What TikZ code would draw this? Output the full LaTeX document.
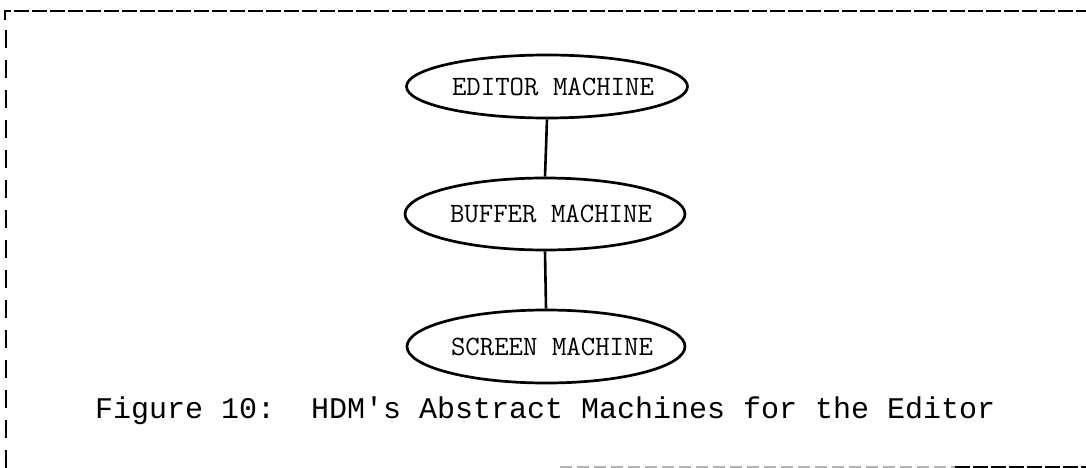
\documentclass[tikz,border=0pt]{standalone}
\usepackage{fontspec}
\usetikzlibrary{shapes.geometric}
\newfontfamily\captionfont{Liberation Mono}
\tikzset{
  % negative horizontal padding keeps the outline at its minimum size
  machine/.style={ellipse, draw=black, line width=2.7pt,
    inner xsep=-40pt, inner ysep=0pt,
    font=\ttfamily\fontsize{28}{30}\selectfont},
  link/.style={draw=black, line width=2.6pt},
  frameline/.style={draw=black, line width=2.8pt},
  captiontext/.style={inner sep=0pt, anchor=base west,
    font=\captionfont\fontsize{30}{34}\selectfont}
}
% label set a little right of the ellipse centre
\newcommand{\machinelabel}[1]{\hspace*{12pt}#1}
\begin{document}
\begin{tikzpicture}[x=1pt,y=-1pt]
  \useasboundingbox (0,0) rectangle (1086,468);
  \fill[white] (0,0) rectangle (1086,468);

  % dashed frame: top edge, left edge, partly printed bottom edge
  \draw[frameline, dash pattern=on 15pt off 3pt] (5,20) -- (5,11) -- (1086,11);
  \draw[frameline, dash pattern=on 18pt off 12pt] (6,30) -- (6,468);
  \draw[frameline, draw=black!30, line width=2pt, dash pattern=on 12pt off 5pt] (560,467) -- (955,467);
  \draw[frameline, dash pattern=on 15pt off 3pt] (955,467) -- (1086,467);

  % abstract machines
  \node[machine, minimum width=281pt, minimum height=63pt] (editor) at (547,86.5) {\machinelabel{EDITOR MACHINE}};
  \node[machine, minimum width=280pt, minimum height=72pt] (buffer) at (545,214) {\machinelabel{BUFFER MACHINE}};
  \node[machine, minimum width=278pt, minimum height=73pt] (screen) at (546,346.5) {\machinelabel{SCREEN MACHINE}};

  \draw[link] (editor.south) -- (buffer.north);
  \draw[link] (buffer.south) -- (screen.north);

  % caption
  \node[captiontext] (caption) at (95,418) {Figure 10:\ \ HDM's Abstract Machines for the Editor};
\end{tikzpicture}
\end{document}
